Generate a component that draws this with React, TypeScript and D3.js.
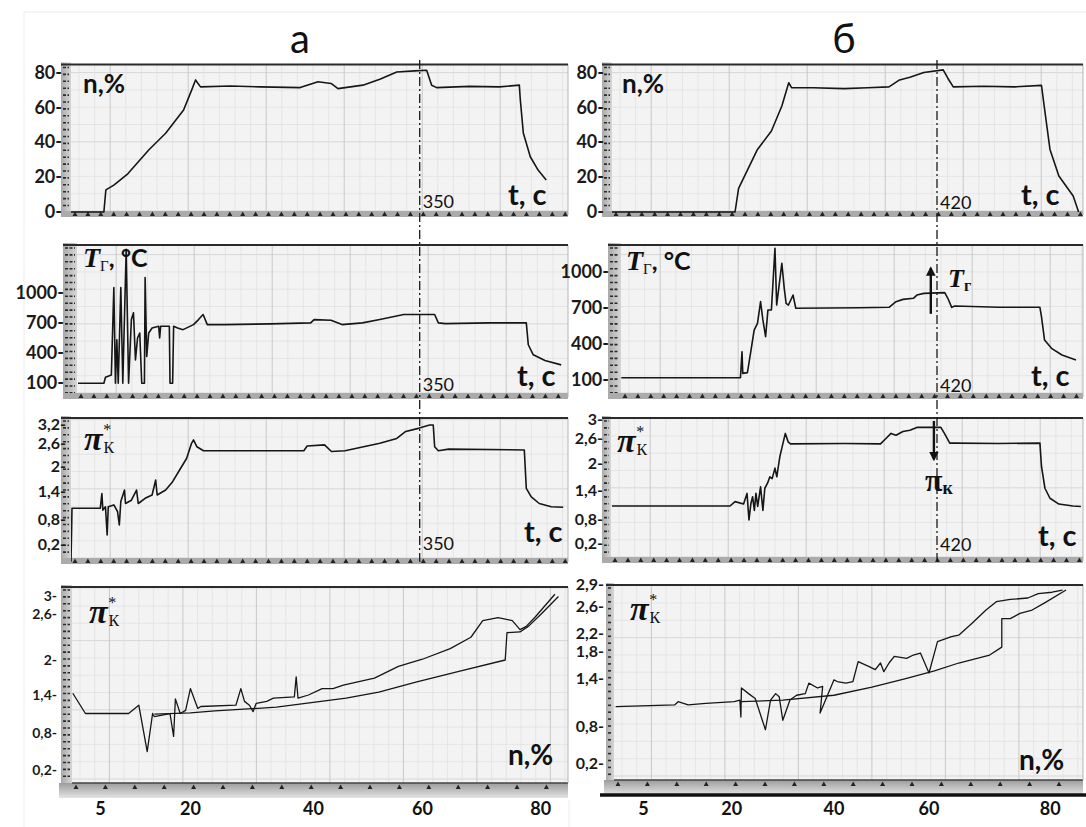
import React from "react";
import * as d3 from "d3";

type Pt = [number, number];

// time (s) vs rotor speed n (%)
const speedA: Pt[] = [
  [0, 0], [33, 0], [35, 12.7], [43, 15.5], [57, 22], [78, 35.7], [95, 45.3], [113, 58.7],
  [121, 70], [125, 76], [130, 72], [160, 72.5], [190, 72], [230, 71.6], [248, 75], [261, 74],
  [268, 71], [293, 73], [310, 76.4], [327, 80.6], [345, 81.2], [357, 81.6], [362, 73],
  [367, 71.6], [400, 72.3], [430, 72], [450, 73], [451, 64.5], [454, 45.5], [461, 31.8],
  [469, 24], [477, 18.4]
];
const speedB: Pt[] = [
  [0, 0], [159, 0], [163.6, 13.6], [188, 36], [206, 46.6], [219.5, 61], [228.4, 74.4],
  [232, 71.6], [260, 71.5], [300, 71], [330, 71.5], [358, 72], [371.6, 76], [385, 77.6],
  [403, 80.3], [428, 81.8], [434, 77], [441, 72], [480, 72.4], [520, 72], [555, 72.9],
  [559, 59.4], [566, 36], [577.5, 20.7], [596, 9.2], [603, 0]
];

// time (s) vs gas temperature (°C)
const tempA: Pt[] = [
  [7, 100], [33, 100], [34.6, 160], [40.5, 183], [43, 1050], [44.6, 100], [46, 533],
  [47.4, 100], [50, 1050], [52, 100], [55.4, 1430], [57.8, 100], [60.6, 733], [62.7, 800],
  [64.7, 333], [66.8, 550], [69, 600], [71, 100], [73.7, 100], [74.4, 1150], [76, 367],
  [78, 600], [81.4, 650], [88, 667], [89, 550], [90, 667], [98.7, 667], [99.4, 100],
  [102, 100], [103, 667], [107, 650], [112.5, 633], [123, 683], [128, 733], [132.6, 783],
  [136.8, 683], [154, 683], [200, 690], [240.6, 700], [244, 733], [261, 727], [272, 683],
  [292.6, 700], [310, 733], [334, 783], [365, 783], [368.7, 700], [375.7, 693], [420, 700],
  [457, 700], [459, 483], [464, 383], [475.7, 326], [492, 283]
];
const tempB: Pt[] = [
  [12, 119], [166, 119], [168, 335], [169, 155], [175, 161], [179, 322], [183.7, 515],
  [188, 571], [192, 751], [195, 599], [198.5, 460], [201.5, 682], [206, 682], [210.6, 1194],
  [212.8, 723], [219.5, 1070], [222.6, 862], [225, 737], [228, 723], [234, 806], [237.5, 696],
  [280, 698], [320, 700], [358, 704], [367, 751], [376, 770], [389.5, 779], [394, 806],
  [403, 820], [430, 826], [434, 779], [439, 704], [443, 715], [500, 705], [553, 704],
  [555, 626], [559, 432], [568, 363], [581.5, 308], [599.6, 266]
];

// time (s) vs compressor pressure ratio
const piA: Pt[] = [
  [0, -0.2], [1, 1.05], [29.4, 1.05], [31, 1.36], [32, 1.01], [34.6, 1.08], [36.3, 0.44],
  [37.4, 1.08], [43, 1.12], [46.7, 0.98], [48.5, 0.68], [50, 1.19], [53.7, 1.44], [54.7, 1.15],
  [60.6, 1.22], [65.8, 1.44], [67.5, 1.15], [74.4, 1.26], [81.4, 1.33], [85, 1.68], [86.5, 1.33],
  [95, 1.44], [102, 1.64], [109, 1.92], [116, 2.21], [121, 2.6], [123, 2.71], [126.4, 2.51],
  [133, 2.41], [233.7, 2.41], [237, 2.53], [254.5, 2.56], [261.4, 2.39], [275, 2.41],
  [310, 2.6], [327, 2.76], [336, 2.99], [348.7, 3.09], [360, 3.2], [363.6, 3.2], [365, 2.51],
  [368.7, 2.41], [379, 2.45], [455, 2.43], [457, 1.48], [462, 1.29], [470, 1.15], [482, 1.08],
  [494, 1.07]
];
const piB: Pt[] = [
  [0, 1.09], [152.5, 1.09], [159, 1.18], [170, 1.13], [174.5, 1.35], [177, 0.8], [179.5, 1.14],
  [181.7, 1.28], [184, 1.0], [186, 1.35], [188.3, 1.08], [192, 1.49], [195, 1.0], [197.5, 1.46],
  [201, 1.57], [204, 1.71], [207, 1.67], [210.6, 1.9], [213, 1.71], [215, 1.94], [217, 2.17],
  [220.4, 2.44], [224, 2.71], [227.6, 2.52], [230.7, 2.47], [300, 2.48], [347, 2.47],
  [354, 2.6], [360.6, 2.71], [367, 2.67], [376, 2.75], [385, 2.78], [394, 2.84], [425, 2.84],
  [429.6, 2.71], [436.5, 2.49], [443, 2.49], [500, 2.48], [553, 2.49], [555, 1.94],
  [559.5, 1.46], [566, 1.25], [577.5, 1.13], [595.6, 1.09], [606, 1.08]
];

// n (%) vs pressure ratio: run-up (jagged) and run-down (smooth) branches
const piNUpA: Pt[] = [
  [0.4, 1.43], [2.5, 1.11], [9.7, 1.11], [11.4, 1.24], [12.8, 0.5], [13.7, 1.11], [14, 1.06],
  [16.6, 1.11], [17.2, 0.75], [17.5, 1.34], [18.3, 1.11], [19.2, 1.16], [20, 1.51], [21.2, 1.19],
  [21.7, 1.22], [27.4, 1.24], [28.2, 1.51], [28.8, 1.3], [29.6, 1.24], [30.2, 1.14], [30.7, 1.27],
  [32.4, 1.3], [33.5, 1.35], [36.9, 1.37], [37.2, 1.71], [37.5, 1.35], [39.2, 1.4], [41.6, 1.51],
  [43.6, 1.51], [45.5, 1.57], [51.2, 1.69], [55.6, 1.89], [60, 2.01], [64.7, 2.15], [68.2, 2.3],
  [70.2, 2.52], [72.8, 2.56], [75.2, 2.52], [76.5, 2.4], [77.5, 2.44], [79, 2.56], [82.4, 3.05]
];
const piNDownA: Pt[] = [
  [14, 1.1], [20, 1.12], [24, 1.15], [34, 1.21], [46, 1.35], [52, 1.45], [58.8, 1.62],
  [66, 1.8], [74, 2.0], [74.3, 2.36], [76.5, 2.37], [78, 2.45], [80, 2.6], [83, 3.0]
];
const piNUpB: Pt[] = [
  [0.3, 1.05], [10.3, 1.07], [10.9, 1.11], [12.6, 1.07], [15.6, 1.09], [20.5, 1.11],
  [21.6, 1.13], [21.8, 0.92], [21.9, 1.28], [23.3, 1.21], [24.6, 1.15], [26.6, 0.75],
  [27.6, 1.13], [28.6, 1.21], [29.3, 1.17], [30, 0.88], [31.4, 1.13], [32.7, 1.19],
  [34.4, 1.21], [35.1, 1.34], [36.8, 1.28], [37.8, 1.3], [37.3, 0.97], [40, 1.38],
  [40.7, 1.36], [42.5, 1.34], [44, 1.36], [45.1, 1.65], [47.3, 1.58], [48.7, 1.53],
  [49.8, 1.63], [50.5, 1.5], [51.6, 1.63], [52.7, 1.73], [55.3, 1.7], [56.7, 1.75],
  [58.2, 1.78], [60, 1.48], [61.4, 2.02], [63.7, 2.13], [64.9, 2.16], [67.1, 2.35],
  [69.4, 2.55], [71.1, 2.67], [73.4, 2.7], [76.3, 2.72], [78, 2.78], [80.3, 2.8], [82, 2.83]
];
const piNDownB: Pt[] = [
  [21.9, 1.11], [30, 1.13], [40, 1.19], [48, 1.29], [55.3, 1.4], [60.9, 1.51], [64.9, 1.63],
  [70, 1.75], [72, 1.9], [72, 2.42], [73.4, 2.42], [75, 2.5], [77, 2.55], [79, 2.65], [82.6, 2.83]
];

// axis tick labels
const nTicks = [0, 20, 40, 60, 80];
const tempTicks = [100, 400, 700, 1000];
const piTicksA = [0.2, 0.8, 1.4, 2, 2.6, 3.2];
const piTicksB = [0.2, 0.8, 1.4, 2, 2.6, 3];
const piNTicksA = [0.2, 0.8, 1.4, 2, 2.6, 3];
const piNTicksB = [0.2, 0.8, 1.4, 1.8, 2.2, 2.6, 2.9];
const nAxisTicks = [5, 20, 40, 60, 80];
const markTimes = [350, 420];
const colTitles = ["а", "б"];
// [t, from, to]
const arrowTempB = [412, 650, 1030];
const arrowPiB = [416, 2.98, 2.1];

const FONT = "Lato, 'Open Sans', Arial, sans-serif";
const SERIF = "'Liberation Serif', 'DejaVu Serif', serif";
const INK = "#161616";

type Box = { x0: number; x1: number; y0: number; y1: number };

const fmt = (v: number) => String(v).replace(".", ",") + "-";

function Panel(props: {
  id: string;
  box: Box;
  x: (v: number) => number;
  y: (v: number) => number;
  ticks: number[];
  labelX: number;
  series: Pt[][];
  kind: "t" | "n";
  stripW?: number;
  fontSize?: number;
}) {
  const { id, box, x, y, ticks, labelX, series, kind } = props;
  const stripW = props.stripW || 10;
  const fs = props.fontSize || 18;
  const { x0, x1, y0, y1 } = box;
  const line = d3
    .line<Pt>()
    .x(d => x(d[0]))
    .y(d => y(d[1]));
  const vGrid = d3.range(x0 + 8, x1, kind === "t" ? 15.6 : 14.7);
  const hGrid = d3.range(y1 - 4, y0, -17.3);
  const dashes = d3.range(y0 + 3, y1 - 1, 6.9);
  const tris = d3.range(x0 + 4, x1 - 2, kind === "t" ? 12.9 : 29.4);
  const h = y1 - y0;
  return (
    <g>
      <clipPath id={id}>
        <rect x={x0} y={y0} width={x1 - x0} height={h} />
      </clipPath>
      <rect x={x0} y={y0} width={x1 - x0} height={h} fill="#f3f3f3" />
      {hGrid.map((gy, i) => (
        <line key={"h" + i} x1={x0} x2={x1} y1={gy} y2={gy}
          stroke={i % 4 === 0 ? "#cfcfcf" : "#e1e1e1"} strokeWidth={0.8} />
      ))}
      {vGrid.map((gx, i) => (
        <line key={"v" + i} x1={gx} x2={gx} y1={y0} y2={y1}
          stroke={i % 5 === 2 ? "#c9c9c9" : "#e0e0e0"} strokeWidth={i % 5 === 2 ? 1 : 0.7} />
      ))}
      {/* left ruler strip */}
      <rect x={x0 - stripW} y={y0 - 2} width={stripW} height={h + 2} fill="url(#stripGrad)" />
      {dashes.map((dy, i) => (
        <line key={"d" + i} x1={x0 - stripW + 2} x2={x0 - 2} y1={dy} y2={dy}
          stroke="#2a2a2a" strokeWidth={1.6} strokeDasharray="3,1.5" />
      ))}
      {/* bottom band */}
      {kind === "t" ? (
        <rect x={x0 - stripW} y={y1 - 4} width={x1 - x0 + stripW} height={6} fill="#ababab" />
      ) : (
        <g>
          <rect x={x0 - stripW - 2} y={y1} width={x1 - x0 + stripW + 2} height={15} fill="url(#bandGrad)" />
          <line x1={x0} x2={x1} y1={y1} y2={y1} stroke="#444" strokeWidth={1.5} />
        </g>
      )}
      {tris.map((tx, i) => {
        const yb = kind === "t" ? y1 + 1 : y1 + 6;
        return (
          <path key={"t" + i} d={`M${tx - 2.5},${yb} L${tx + 2.5},${yb} L${tx},${yb - 4.5} Z`} fill="#222" />
        );
      })}
      <line x1={x1} x2={x1} y1={y0} y2={y1} stroke="#b5b5b5" strokeWidth={1} />
      <line x1={x0 - stripW} x2={x1} y1={y0} y2={y0} stroke="#2b2b2b" strokeWidth={2.2} />
      <g clipPath={`url(#${id})`}>
        {series.map((s, i) => (
          <path key={"s" + i} d={line(s) || ""} fill="none" stroke={INK}
            strokeWidth={kind === "t" ? 1.6 : 1.3} strokeLinejoin="round" />
        ))}
      </g>
      {ticks.map(v => (
        <text key={"l" + v} x={labelX} y={y(v) + fs * 0.33} textAnchor="end" fontSize={fs}
          fontWeight={700} fill="#1a1a1a">
          {fmt(v)}
        </text>
      ))}
    </g>
  );
}

function TLabel({ x, y }: { x: number; y: number }) {
  return (
    <text x={x} y={y} fill="#111">
      <tspan fontFamily={SERIF} fontStyle="italic" fontWeight={700} fontSize={28}>T</tspan>
      <tspan fontFamily={SERIF} fontSize={15} dy={4}>Г</tspan>
      <tspan fontFamily={FONT} fontWeight={700} fontSize={25} dy={-4}>, °C</tspan>
    </text>
  );
}

function PiLabel({ x, y }: { x: number; y: number }) {
  return (
    <text x={x} y={y} fill="#111">
      <tspan fontFamily={SERIF} fontStyle="italic" fontWeight={700} fontSize={34}>π</tspan>
      <tspan fontFamily={SERIF} fontSize={16} dx={1} dy={3}>К</tspan>
      <tspan fontFamily={SERIF} fontSize={16} dx={-11} dy={-18}>*</tspan>
    </text>
  );
}

export default function App() {
  const tA = d3.scaleLinear().domain([0, markTimes[0]]).range([71, 419.7]);
  const tB = d3.scaleLinear().domain([0, markTimes[1]]).range([612, 937]);
  const nY = d3.scaleLinear().domain([0, 80]).range([212, 73]);
  const TA = d3.scaleLinear().domain([100, 1000]).range([383.3, 292.7]);
  const TB = d3.scaleLinear().domain([100, 1000]).range([380, 271.7]);
  const pA = d3.scaleLinear().domain(piTicksA).range([545, 520, 491.7, 466.7, 443.3, 425]);
  const pB = d3.scaleLinear().domain(piTicksB).range([544, 520, 491, 463.5, 438.5, 420]);
  const cA = d3.scaleLinear().domain(piNTicksA).range([770, 733.3, 695, 660, 614.5, 596.5]);
  const cB = d3.scaleLinear().domain(piNTicksB).range([763.3, 726.7, 678.3, 651.7, 633.3, 606.7, 585]);
  const nXA = d3.scaleLinear().domain(nAxisTicks).range([100.4, 190.4, 313.4, 422.4, 540.7]);
  const nXB = d3.scaleLinear().domain(nAxisTicks).range([643.4, 731.7, 833.9, 929, 1050.3]);

  const markX = [tA(markTimes[0]), tB(markTimes[1])];
  const markLabelY = [208, 391, 550];
  const tcA = [[508, 205], [517, 386], [524, 542]];
  const tcB = [[1021, 205], [1031, 386], [1038, 546]];

  return (
    <svg width={1086} height={827} fontFamily={FONT}
      style={{ position: "absolute", left: 0, top: 0, background: "#fff" }}>
      <defs>
        <linearGradient id="stripGrad" x1="0" x2="1" y1="0" y2="0">
          <stop offset="0" stopColor="#a9a9a9" />
          <stop offset="1" stopColor="#d6d6d6" />
        </linearGradient>
        <linearGradient id="bandGrad" x1="0" x2="0" y1="0" y2="1">
          <stop offset="0" stopColor="#9c9c9c" />
          <stop offset="1" stopColor="#e4e4e4" />
        </linearGradient>
        <marker id="arr" viewBox="0 0 10 10" refX="8" refY="5" markerWidth="4" markerHeight="4" orient="auto">
          <path d="M0,0 L10,5 L0,10 z" fill="#111" />
        </marker>
      </defs>
      <rect width={1086} height={827} fill="#fff" />
      {/* faint frames */}
      <line x1={24} x2={1086} y1={12} y2={12} stroke="#ececec" />
      <line x1={24} x2={24} y1={12} y2={827} stroke="#ececec" />
      <line x1={569} x2={569} y1={800} y2={827} stroke="#ececec" />

      <text x={300} y={53} textAnchor="middle" fontSize={40} fill="#111">{colTitles[0]}</text>
      <text x={844} y={53} textAnchor="middle" fontSize={40} fill="#111">{colTitles[1]}</text>

      {/* column a */}
      <Panel id="a1" box={{ x0: 71, x1: 568, y0: 64.5, y1: 215 }} x={tA} y={nY} ticks={nTicks}
        labelX={62} series={[speedA]} kind="t" />
      <Panel id="a2" box={{ x0: 77, x1: 568, y0: 245, y1: 397 }} x={tA} y={TA} ticks={tempTicks}
        labelX={64} series={[tempA]} kind="t" stripW={14} />
      <Panel id="a3" box={{ x0: 71, x1: 568, y0: 418, y1: 562 }} x={tA} y={pA} ticks={piTicksA}
        labelX={66} series={[piA]} kind="t" fontSize={16} />
      <Panel id="a4" box={{ x0: 72, x1: 568, y0: 587, y1: 783 }} x={nXA} y={cA} ticks={piNTicksA}
        labelX={57} series={[piNDownA, piNUpA]} kind="n" stripW={11} fontSize={14} />

      {/* column b */}
      <Panel id="b1" box={{ x0: 612, x1: 1083, y0: 64.5, y1: 215 }} x={tB} y={nY} ticks={nTicks}
        labelX={604} series={[speedB]} kind="t" />
      <Panel id="b2" box={{ x0: 621, x1: 1083, y0: 245, y1: 397 }} x={tB} y={TB} ticks={tempTicks}
        labelX={609} series={[tempB]} kind="t" stripW={13} />
      <Panel id="b3" box={{ x0: 611, x1: 1083, y0: 418, y1: 561 }} x={tB} y={pB} ticks={piTicksB}
        labelX={603} series={[piB]} kind="t" stripW={9} fontSize={16} />
      <Panel id="b4" box={{ x0: 614, x1: 1083, y0: 585, y1: 780 }} x={nXB} y={cB} ticks={piNTicksB}
        labelX={604} series={[piNDownB, piNUpB]} kind="n" stripW={8} fontSize={16} />
      <line x1={600} x2={1086} y1={795} y2={795} stroke="#111" strokeWidth={3.5} />

      {/* panel labels */}
      {[83, 622].map(lx => (
        <text key={"n" + lx} x={lx} y={93} fontSize={26} fontWeight={700} fill="#111">n,%</text>
      ))}
      <TLabel x={83} y={267} />
      <TLabel x={626} y={270} />
      <PiLabel x={84} y={450} />
      <PiLabel x={617} y={452} />
      <PiLabel x={89} y={623} />
      <PiLabel x={630} y={620} />
      <text x={508} y={765} fontSize={28} fontWeight={700} fill="#111">n,%</text>
      <text x={1019} y={770} fontSize={28} fontWeight={700} fill="#111">n,%</text>
      {tcA.concat(tcB).map(([tx, ty], i) => (
        <text key={"tc" + i} x={tx} y={ty} fontSize={29} fontWeight={700} fill="#111">t, с</text>
      ))}

      {/* marker lines at 350 s and 420 s */}
      {markX.map((mx, c) => (
        <g key={"m" + c}>
          <line x1={mx} x2={mx} y1={60} y2={565} stroke="#1a1a1a" strokeWidth={1.3}
            strokeDasharray="9,3,2,3" />
          {markLabelY.map((my, r) => (
            <text key={"ml" + r} x={mx + 3} y={my + (c === 1 ? 1 : 0)} fontSize={18} fill="#111">
              {markTimes[c]}
            </text>
          ))}
        </g>
      ))}

      {/* arrows in column b */}
      <line x1={tB(arrowTempB[0])} x2={tB(arrowTempB[0])} y1={TB(arrowTempB[1])} y2={TB(arrowTempB[2])}
        stroke="#111" strokeWidth={2.4} markerEnd="url(#arr)" />
      <text x={948} y={287} fill="#111">
        <tspan fontFamily={SERIF} fontStyle="italic" fontWeight={700} fontSize={26}>T</tspan>
        <tspan fontFamily={SERIF} fontWeight={700} fontSize={16} dy={4}>г</tspan>
      </text>
      <line x1={tB(arrowPiB[0])} x2={tB(arrowPiB[0])} y1={pB(arrowPiB[1])} y2={pB(arrowPiB[2])}
        stroke="#111" strokeWidth={2.4} markerEnd="url(#arr)" />
      <text x={925} y={491} fill="#111">
        <tspan fontFamily={SERIF} fontWeight={700} fontSize={32}>π</tspan>
        <tspan fontFamily={SERIF} fontWeight={700} fontSize={18} dy={3}>к</tspan>
      </text>

      {/* n axis labels */}
      {nAxisTicks.map(v => (
        <text key={"xa" + v} x={nXA(v)} y={815} textAnchor="middle" fontSize={18} fontWeight={700} fill="#111">{v}</text>
      ))}
      {nAxisTicks.map(v => (
        <text key={"xb" + v} x={nXB(v)} y={815} textAnchor="middle" fontSize={18} fontWeight={700} fill="#111">{v}</text>
      ))}
    </svg>
  );
}
